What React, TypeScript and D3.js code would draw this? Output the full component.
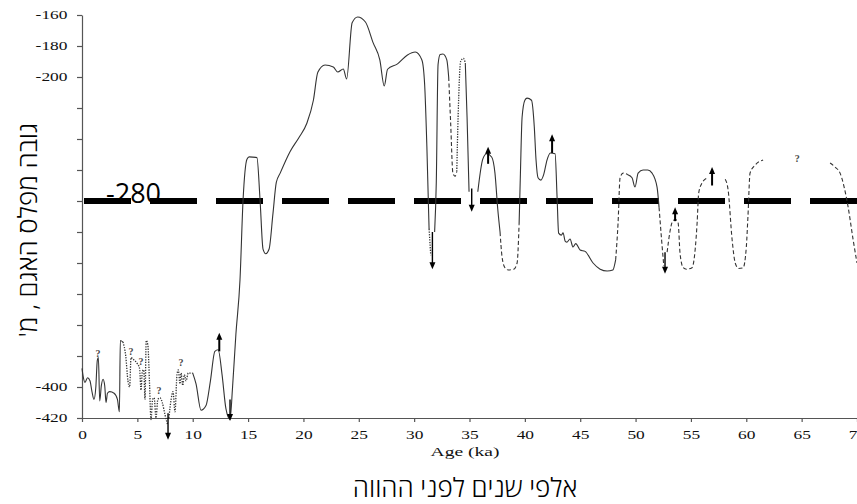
import * as d3 from "d3";
import React from "react";

type Pt = [number, number]; // [age ka, lake level m]

// curve pieces
const seg01Solid: Pt[] = [[0, -388], [0.1, -393], [0.27, -397], [0.5, -394], [0.72, -396], [0.9, -403], [1.08, -408], [1.25, -400], [1.38, -383], [1.48, -381], [1.6, -409], [1.75, -399], [1.9, -395], [2.05, -399], [2.17, -410], [2.3, -404], [2.5, -403], [2.9, -404], [3.2, -408], [3.38, -416], [3.46, -370], [3.7, -371]];
const seg02Dotted: Pt[] = [[3.7, -371], [3.95, -380], [4.15, -396], [4.3, -400], [4.43, -381], [4.6, -382], [5.0, -385], [5.2, -388], [5.33, -402], [5.45, -390], [5.58, -389], [5.69, -408], [5.8, -370], [5.95, -373], [6.1, -398], [6.23, -421], [6.38, -408], [6.52, -407], [6.68, -420], [6.85, -408], [7.05, -407], [7.25, -410], [7.5, -418], [7.72, -424]];
const seg03Dotted: Pt[] = [[7.85, -420], [8.05, -408], [8.22, -403], [8.4, -416], [8.58, -392], [8.7, -389], [8.85, -398], [8.95, -391], [9.1, -399], [9.25, -392], [9.4, -396], [9.6, -391], [10.0, -391]];
const seg04Solid: Pt[] = [[10.0, -391], [10.3, -398], [10.75, -415], [11.2, -412], [11.6, -396], [12.0, -377], [12.3, -376], [12.65, -392], [13.0, -414], [13.37, -421], [13.6, -400], [13.9, -366], [14.27, -331], [14.55, -279], [14.9, -253], [15.1, -251.5], [15.8, -252], [16.08, -279], [16.35, -311], [16.6, -314], [16.9, -311], [17.25, -288], [17.55, -268], [17.9, -262], [18.8, -248], [19.6, -239], [20.3, -230], [20.9, -215], [21.3, -197], [21.95, -192.3], [22.7, -193.6], [23.1, -196.8], [23.6, -194.8], [23.9, -201.3], [24.4, -165], [24.9, -161.3], [25.6, -164.5], [26.3, -178], [26.9, -189], [27.3, -205.8], [27.6, -195], [28.5, -191.5], [29.4, -185.8], [30.1, -183.9], [30.7, -189], [30.95, -205], [31.15, -245], [31.35, -298]];
const seg05Dotted: Pt[] = [[31.35, -298], [31.5, -315]];
const seg06Solid: Pt[] = [[31.85, -300], [32.0, -268], [32.16, -192], [32.35, -185.5], [32.6, -185.2], [32.95, -189], [33.12, -200]];
const seg07Dashed: Pt[] = [[33.12, -200], [33.3, -230], [33.5, -262], [33.7, -264], [33.85, -261]];
const seg08Dotted: Pt[] = [[33.85, -261], [33.97, -226], [34.2, -190], [34.45, -188], [34.62, -191]];
const seg09Solid: Pt[] = [[34.62, -191], [34.78, -226], [34.96, -274]];
const seg10Solid: Pt[] = [[35.75, -274], [36.2, -253], [36.55, -249.5], [37.0, -251.6], [37.3, -262], [37.55, -285], [37.76, -300]];
const seg11Dashed: Pt[] = [[37.76, -300], [37.94, -316], [38.2, -323], [38.5, -324.5], [39.0, -324], [39.3, -320], [39.48, -295]];
const seg12Solid: Pt[] = [[39.48, -295], [39.6, -262], [39.75, -226], [40.0, -215], [40.2, -213.6], [40.6, -215], [40.85, -232], [41.01, -253.6], [41.19, -265], [41.45, -266.5], [41.7, -263], [42.0, -253.6], [42.3, -249], [42.73, -249.5], [42.91, -277.4], [43.05, -300.7], [43.3, -302], [43.45, -300.5], [43.65, -306], [43.81, -306.5], [44.08, -304.5], [44.35, -309.7], [44.6, -307.5], [44.99, -311.6], [45.44, -312.5], [46.16, -320], [46.8, -324], [47.43, -325.2], [47.95, -324.5], [48.2, -318]];
const seg13Dashed: Pt[] = [[48.2, -318], [48.42, -294], [48.6, -265], [48.87, -262], [49.3, -263]];
const seg14Solid: Pt[] = [[49.3, -263], [49.68, -265], [49.95, -271], [50.23, -262], [50.68, -260], [51.1, -260], [51.49, -262], [51.94, -271], [52.12, -284]];
const seg15Dashed: Pt[] = [[52.12, -284], [52.35, -305], [52.55, -322]];
const seg16Dashed: Pt[] = [[52.85, -313], [53.1, -300], [53.35, -293], [53.6, -292], [53.84, -294], [54.02, -314], [54.3, -323], [54.6, -324], [55.1, -323], [55.4, -310], [55.56, -294], [55.7, -275], [56.0, -268.4], [56.46, -265.2]];
const seg17Dashed: Pt[] = [[58.1, -266], [58.36, -273], [58.72, -305], [59.0, -320], [59.3, -323.5], [59.71, -323.2], [60.0, -310], [60.15, -290], [60.34, -262], [60.8, -256.8], [61.52, -253.6]];
const seg18Dashed: Pt[] = [[67.57, -255.5], [68.0, -258], [68.47, -262], [69.2, -284], [69.65, -305], [70.0, -320]];

// arrows: age, from level, to level
const arrowAge = [7.77, 12.4, 13.37, 31.65, 35.2, 36.68, 42.46, 52.66, 53.57, 56.91];
const arrowFrom = [-417, -377, -408, -300, -272, -256, -249, -313, -293, -270];
const arrowTo = [-434, -365, -422, -324, -287, -245, -237, -327, -284, -258];

// question marks
const qAge = [1.45, 4.43, 5.33, 6.96, 8.94, 64.6];
const qLevel = [-378, -377, -383, -402, -384, -252];

const xTickValues = [0, 5, 10, 15, 20, 25, 30, 35, 40, 45, 50, 55, 60, 65, 70];
const yTickValues = [-160, -180, -200, -220, -240, -260, -280, -300, -320, -340, -360, -380, -400, -420];
const yTickLabelled = [-160, -180, -200, -400, -420];

const thresholdLevel = -280;

const serif = "Liberation Serif, DejaVu Serif, Times New Roman, serif";
const sans = "Open Sans, Liberation Sans, DejaVu Sans, sans-serif";
const stretch = "scale(1.45,1)"; // the source figure is stretched sideways

const App = () => {
  const ref = React.useRef<SVGSVGElement>(null);

  React.useEffect(() => {
    const width = 857, height = 504;
    const svg = d3.select(ref.current);
    svg.selectAll("*").remove();
    svg.attr("width", width).attr("height", height);

    const x = d3.scaleLinear().domain([0, 70]).range([82, 857]);
    const y = d3.scaleLinear().domain([-420, -160]).range([418, 15]);

    const segments: { pts: Pt[]; style: string }[] = [
      { pts: seg01Solid, style: "solid" },
      { pts: seg02Dotted, style: "dotted" },
      { pts: seg03Dotted, style: "dotted" },
      { pts: seg04Solid, style: "solid" },
      { pts: seg05Dotted, style: "dotted" },
      { pts: seg06Solid, style: "solid" },
      { pts: seg07Dashed, style: "dashed" },
      { pts: seg08Dotted, style: "dotted" },
      { pts: seg09Solid, style: "solid" },
      { pts: seg10Solid, style: "solid" },
      { pts: seg11Dashed, style: "dashed" },
      { pts: seg12Solid, style: "solid" },
      { pts: seg13Dashed, style: "dashed" },
      { pts: seg14Solid, style: "solid" },
      { pts: seg15Dashed, style: "dashed" },
      { pts: seg16Dashed, style: "dashed" },
      { pts: seg17Dashed, style: "dashed" },
      { pts: seg18Dashed, style: "dashed" },
    ];
    const dashes: Record<string, string | null> = {
      solid: null,
      dashed: "4,2.5",
      dotted: "1.3,1.3",
    };

    // axes
    const xAxis = d3
      .axisBottom(x)
      .tickValues(xTickValues)
      .tickSize(4)
      .tickSizeOuter(0)
      .tickPadding(8)
      .tickFormat((d) => String(d));
    const yAxis = d3
      .axisLeft(y)
      .tickValues(yTickValues)
      .tickSize(5)
      .tickSizeOuter(0)
      .tickPadding(5)
      .tickFormat((d) => (yTickLabelled.includes(d as number) ? String(d) : ""));

    const xg = svg.append("g").attr("transform", `translate(0,${y(-420)})`).call(xAxis);
    const yg = svg.append("g").attr("transform", `translate(${x(0)},0)`).call(yAxis);
    [xg, yg].forEach((g) => {
      g.selectAll("path, line").attr("stroke", "#555").attr("stroke-width", 1.2);
      g.selectAll("text")
        .attr("font-family", serif)
        .attr("font-size", 12)
        .attr("fill", "#111")
        .attr("transform", stretch);
    });

    // -280 threshold line
    svg
      .append("line")
      .attr("x1", x(0))
      .attr("x2", x(70))
      .attr("y1", y(thresholdLevel))
      .attr("y2", y(thresholdLevel))
      .attr("stroke", "#000")
      .attr("stroke-width", 6)
      .attr("stroke-dasharray", "47,19")
      .attr("stroke-dashoffset", -2);

    svg
      .append("text")
      .attr("x", x(0) + 24)
      .attr("y", y(thresholdLevel) + 2)
      .attr("font-family", sans)
      .attr("font-size", 27)
      .attr("fill", "#000")
      .text(String(thresholdLevel));

    // lake level curve
    const line = d3
      .line<Pt>()
      .x((d) => x(d[0]))
      .y((d) => y(d[1]))
      .curve(d3.curveMonotoneX);

    svg
      .append("g")
      .selectAll("path")
      .data(segments)
      .enter()
      .append("path")
      .attr("d", (d) => line(d.pts))
      .attr("fill", "none")
      .attr("stroke", "#333")
      .attr("stroke-width", (d) => (d.style === "dotted" ? 1.3 : 1.1))
      .attr("stroke-dasharray", (d) => dashes[d.style]);

    // arrows
    const arrows = arrowAge.map((a, i) => ({ a, from: arrowFrom[i], to: arrowTo[i] }));
    const ag = svg.append("g");
    arrows.forEach((d) => {
      const tx = x(d.a);
      const ty = y(d.to);
      const s = Math.sign(y(d.to) - y(d.from));
      ag.append("line")
        .attr("x1", tx)
        .attr("x2", tx)
        .attr("y1", y(d.from))
        .attr("y2", ty - s * 5)
        .attr("stroke", "#000")
        .attr("stroke-width", s < 0 ? 2 : 1.4);
      ag.append("path")
        .attr("d", `M${tx},${ty} L${tx - 3},${ty - s * 7} L${tx + 3},${ty - s * 7} Z`)
        .attr("fill", "#000");
    });

    // question marks
    svg
      .append("g")
      .selectAll("text")
      .data(qAge)
      .enter()
      .append("text")
      .attr("x", (d) => x(d))
      .attr("y", (d, i) => y(qLevel[i]) + 4)
      .attr("text-anchor", "middle")
      .attr("font-family", serif)
      .attr("font-weight", "bold")
      .attr("font-size", 10)
      .attr("fill", "#444")
      .text("?");

    // axis titles
    svg
      .append("text")
      .attr("transform", `translate(${x(34.6)},456) ${stretch}`)
      .attr("text-anchor", "middle")
      .attr("font-family", serif)
      .attr("font-size", 13.5)
      .attr("fill", "#111")
      .text("Age (ka)");

    svg
      .append("text")
      .attr("x", x(34.6))
      .attr("y", 497)
      .attr("text-anchor", "middle")
      .attr("direction", "rtl")
      .attr("font-family", sans)
      .attr("font-weight", 300)
      .attr("font-size", 26)
      .attr("fill", "#000")
      .text("אלפי שנים לפני ההווה");

    svg
      .append("text")
      .attr("transform", `translate(37,230) rotate(-90)`)
      .attr("text-anchor", "middle")
      .attr("direction", "rtl")
      .attr("font-family", sans)
      .attr("font-weight", 300)
      .attr("font-size", 26)
      .attr("fill", "#000")
      .text("גובה מפלס האגם , מ'");
  }, []);

  return (
    <svg
      ref={ref}
      style={{ position: "absolute", left: 0, top: 0, background: "#fff" }}
    />
  );
};

export default App;
